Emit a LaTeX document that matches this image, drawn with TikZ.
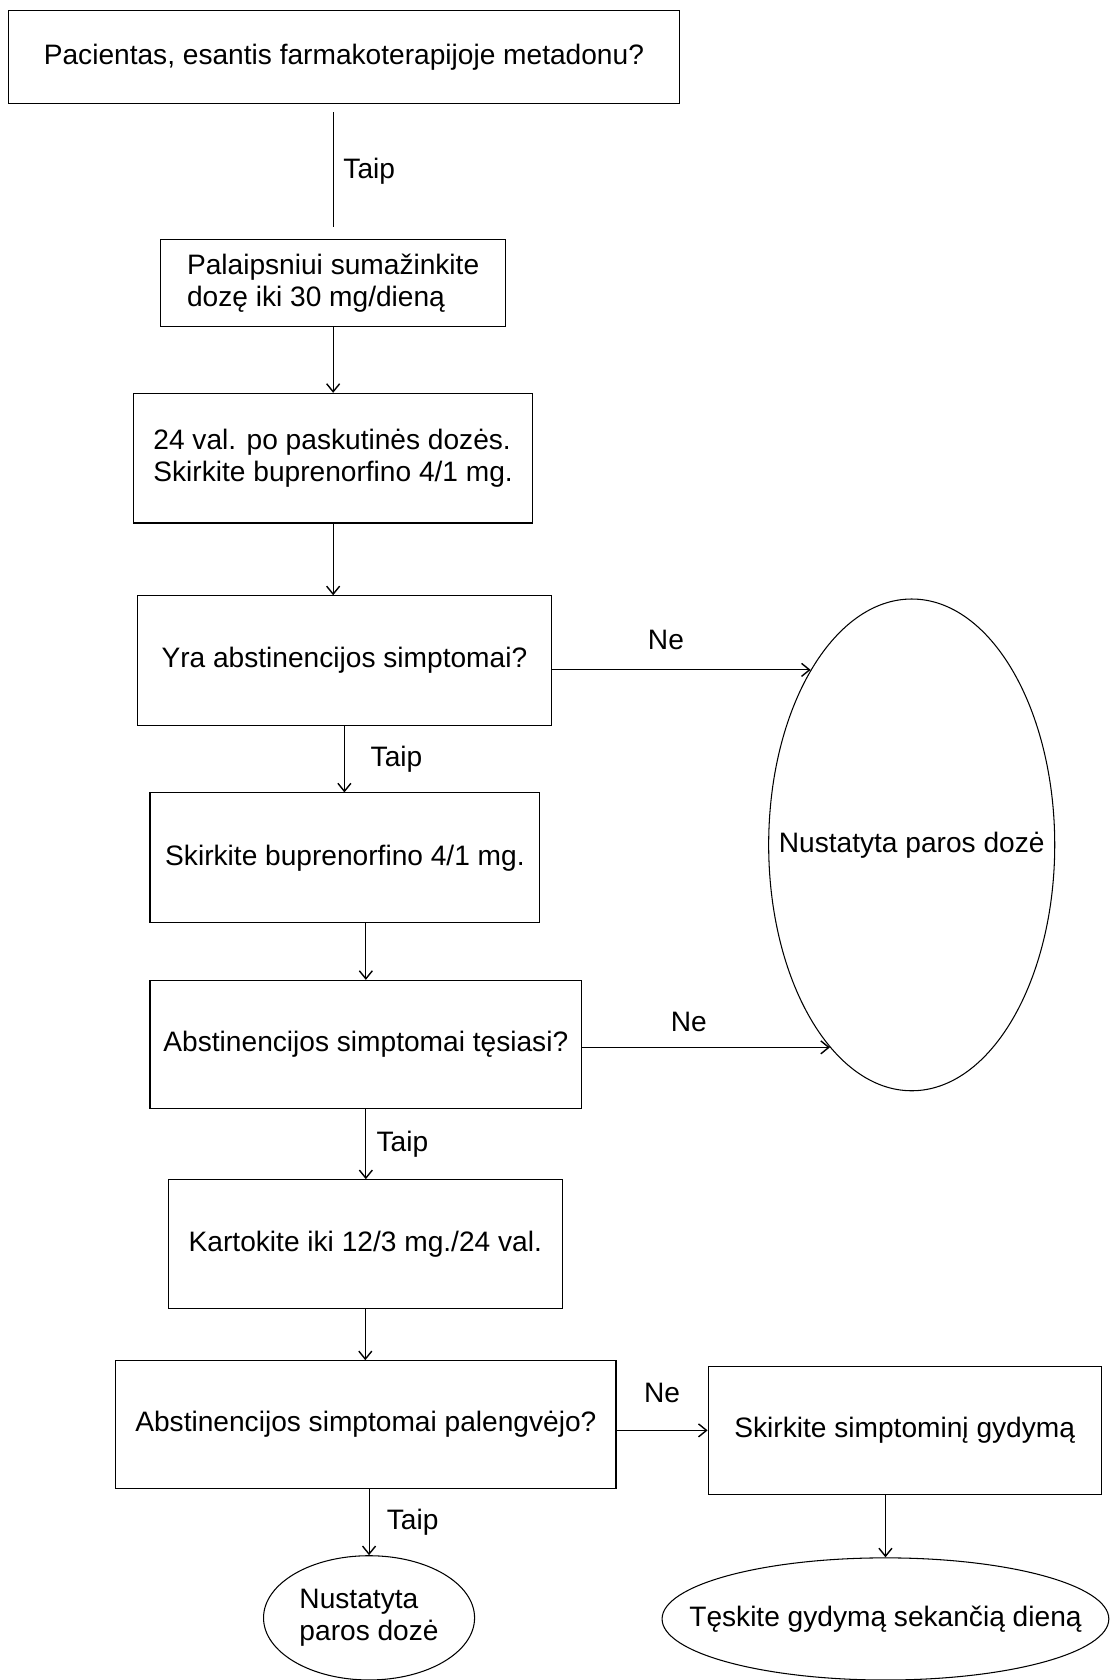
\documentclass[tikz,border=0pt]{standalone}
\usepackage{fontspec}
\setmainfont{Liberation Sans}
\usetikzlibrary{shapes.geometric,arrows.meta}

\begin{document}
\begin{tikzpicture}[
	line width=0.6pt,
	every node/.style={font=\fontsize{16}{18.3}\selectfont},
	box/.style={draw, rectangle, inner sep=0pt, align=left},
	oval/.style={draw, ellipse, inner ysep=0pt, align=left},
	lbl/.style={inner sep=3pt},
	>={Straight Barb[length=1.6mm, width=2.6mm, line width=0.8pt]}
	]
	% We will draw the flow chart here
	\useasboundingbox (0,0) rectangle (22.24,33.6);
	
	\node[box, minimum width=13.41cm, minimum height=1.843cm] (start) at (6.878,32.46)
		{Pacientas, esantis farmakoterapijoje metadonu?};
	\node[box, minimum width=6.899cm, minimum height=1.757cm] (reduce) at (6.663,27.94)
		{Palaipsniui sumažinkite\\dozę iki 30 mg/dieną};
	\node[box, minimum width=7.97cm, minimum height=2.593cm] (first) at (6.663,24.436)
		{24 val. po paskutinės dozės.\\Skirkite buprenorfino 4/1 mg.};
	\node[box, minimum width=8.292cm, minimum height=2.593cm] (symptoms) at (6.888,20.387)
		{Yra abstinencijos simptomai?};
	\node[box, minimum width=7.799cm, minimum height=2.593cm] (second) at (6.899,16.444)
		{Skirkite buprenorfino 4/1 mg.};
	\node[box, minimum width=8.635cm, minimum height=2.571cm] (persist) at (7.317,12.706)
		{Abstinencijos simptomai tęsiasi?};
	\node[box, minimum width=7.885cm, minimum height=2.571cm] (repeat) at (7.306,8.72)
		{Kartokite iki 12/3 mg./24 val.};
	\node[box, minimum width=10.006cm, minimum height=2.55cm] (relief) at (7.317,5.11)
		{Abstinencijos simptomai palengvėjo?};
	\node[box, minimum width=7.863cm, minimum height=2.571cm] (sympt) at (18.094,4.992)
		{Skirkite simptominį gydymą};
	
	\node[oval, inner xsep=-0.7cm, minimum width=5.721cm, minimum height=9.835cm] (doseA) at (18.234,16.702)
		{Nustatyta paros dozė};
	\node[oval, inner xsep=0pt, minimum width=4.221cm, minimum height=2.485cm] (doseB) at (7.381,1.243)
		{Nustatyta\\paros dozė};
	\node[oval, inner xsep=-0.85cm, minimum width=8.935cm, minimum height=2.443cm] (cont) at (17.709,1.221)
		{Tęskite gydymą sekančią dieną};
	
	% connectors
	\draw[shorten <=0.17cm, shorten >=0.23cm] (start.south -| reduce) -- (reduce.north)
		node[lbl, midway, right=0.09cm] {Taip};
	\draw[->] (reduce) -- (first);
	\draw[->] (first.south) -- (first.south |- symptoms.north);
	\draw[->] (doseA.120 -| symptoms.east) -- (doseA.120)
		node[lbl, pos=0.44, above=0.28cm] {Ne};
	\draw[->] (symptoms.south) -- (symptoms.south |- second.north)
		node[lbl, midway, right=0.41cm] {Taip};
	\draw[->] (second.south -| persist) -- (persist.north);
	\draw[->] (doseA.248 -| persist.east) -- (doseA.248)
		node[lbl, pos=0.43, above=0.2cm] {Ne};
	\draw[->] (persist) -- (persist |- repeat.north)
		node[lbl, midway, right=0.1cm] {Taip};
	\draw[->] (repeat) -- (repeat |- relief.north);
	\draw[->] (relief.east |- sympt) -- (sympt.west)
		node[lbl, midway, above=0.43cm] {Ne};
	\draw[->] (relief.south -| doseB) -- (doseB.north)
		node[lbl, midway, right=0.24cm] {Taip};
	\draw[->] (sympt.south -| cont) -- (cont.north);
	
\end{tikzpicture}
\end{document}
